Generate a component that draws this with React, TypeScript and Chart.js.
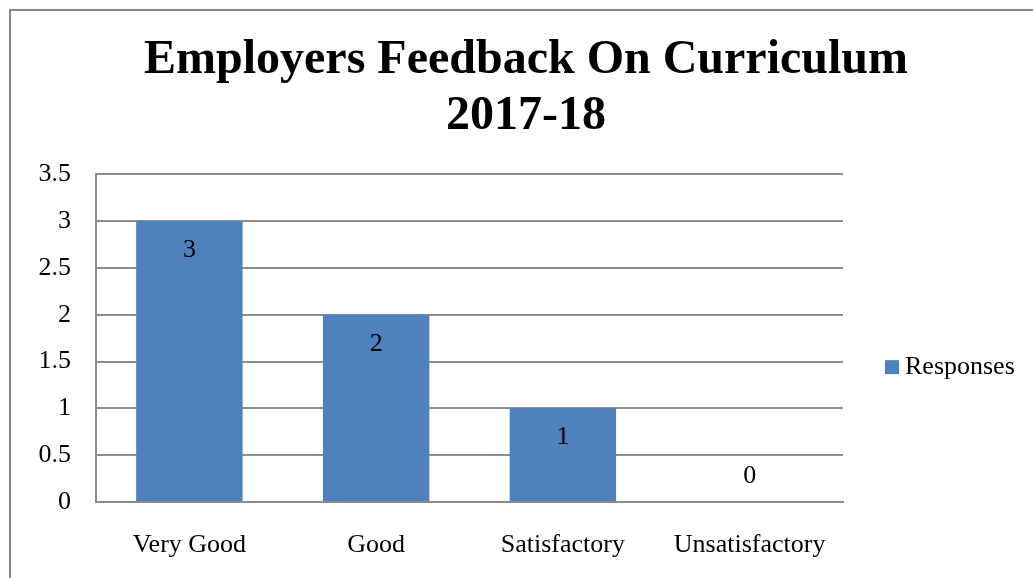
import React, { useEffect, useRef } from 'react';
import { Chart, registerables } from 'chart.js';

Chart.register(...registerables);

const categories = ['Very Good', 'Good', 'Satisfactory', 'Unsatisfactory'];
const responses = [3, 2, 1, 0];
const seriesLabel = 'Responses';
const titleLines = ['Employers Feedback On Curriculum', '2017-18'];
const yMin = 0;
const yMax = 3.5;
const yStep = 0.5;

const FONT = "'Liberation Serif', 'Times New Roman', serif";
const BAR_COLOR = '#4F81BD';
const GRID_COLOR = '#8c8c8c';

const framePlugin = {
  id: 'frame',
  beforeDraw(chart: any) {
    const { ctx, width, height } = chart;
    ctx.save();
    ctx.fillStyle = '#ffffff';
    ctx.fillRect(0, 0, width, height);
    ctx.strokeStyle = '#878787';
    ctx.lineWidth = 2;
    ctx.strokeRect(10, 10, width + 100, height + 100);
    ctx.restore();
  },
};

const valueLabelPlugin = {
  id: 'valueLabels',
  afterDatasetsDraw(chart: any) {
    const { ctx } = chart;
    ctx.save();
    ctx.font = `26px ${FONT}`;
    ctx.fillStyle = '#000000';
    ctx.textAlign = 'center';
    ctx.textBaseline = 'middle';
    chart.data.datasets.forEach((ds: any, di: number) => {
      const meta = chart.getDatasetMeta(di);
      meta.data.forEach((bar: any, i: number) => {
        const v = ds.data[i];
        const y = v > 0 ? bar.y + 29 : bar.base - 26;
        ctx.fillText(String(v), bar.x, y);
      });
    });
    ctx.restore();
  },
};

const sideLegendPlugin = {
  id: 'sideLegend',
  afterDraw(chart: any) {
    const { ctx, chartArea } = chart;
    const ds = chart.data.datasets[0];
    const cy = (chartArea.top + chartArea.bottom) / 2 + 29;
    const bx = chartArea.right + 42;
    ctx.save();
    ctx.fillStyle = ds.backgroundColor;
    ctx.fillRect(bx, cy - 7, 14, 14);
    ctx.font = `26px ${FONT}`;
    ctx.fillStyle = '#000000';
    ctx.textAlign = 'left';
    ctx.textBaseline = 'middle';
    ctx.fillText(ds.label, bx + 20, cy);
    ctx.restore();
  },
};

export default function App() {
  const canvasRef = useRef<HTMLCanvasElement | null>(null);

  useEffect(() => {
    if (!canvasRef.current) return;
    Chart.defaults.font.family = FONT;
    const chart = new Chart(canvasRef.current, {
      type: 'bar',
      data: {
        labels: categories,
        datasets: [
          {
            label: seriesLabel,
            data: responses,
            backgroundColor: BAR_COLOR,
            borderWidth: 0,
            categoryPercentage: 0.57,
            barPercentage: 1,
          },
        ],
      },
      options: {
        animation: false,
        responsive: false,
        maintainAspectRatio: false,
        layout: { padding: { left: 19, right: 0, top: 0, bottom: 0 } },
        plugins: {
          legend: { display: false },
          tooltip: { enabled: false },
          title: {
            display: true,
            text: titleLines,
            color: '#000000',
            font: { family: FONT, size: 48, weight: 'bold', lineHeight: 1.18 },
            padding: { top: 32, bottom: 29 },
          },
        },
        scales: {
          x: {
            grid: { display: false, drawTicks: false },
            border: { display: true, color: GRID_COLOR, width: 2 },
            ticks: { color: '#000000', font: { family: FONT, size: 26 }, padding: 28, maxRotation: 0 },
            afterFit: (s: any) => {
              s.height = 76;
            },
          },
          y: {
            min: yMin,
            max: yMax,
            ticks: {
              stepSize: yStep,
              color: '#000000',
              font: { family: FONT, size: 26 },
              padding: 25,
              callback: (v: any) => String(Number(v)),
            },
            grid: { color: GRID_COLOR, lineWidth: 2, drawTicks: false },
            border: { display: true, color: GRID_COLOR, width: 2 },
            afterFit: (s: any) => {
              s.width = 77;
            },
          },
          legendSpace: {
            type: 'linear',
            position: 'right',
            display: true,
            grid: { display: false, drawTicks: false },
            border: { display: false },
            ticks: { display: false },
            afterFit: (s: any) => {
              s.width = 190;
            },
          },
        },
      } as any,
      plugins: [framePlugin, valueLabelPlugin, sideLegendPlugin],
    });
    return () => chart.destroy();
  }, []);

  return (
    <div style={{ position: 'fixed', left: 0, top: 0, width: 1033, height: 578, background: '#fff' }}>
      <canvas ref={canvasRef} width={1033} height={578} style={{ display: 'block', width: 1033, height: 578 }} />
    </div>
  );
}
